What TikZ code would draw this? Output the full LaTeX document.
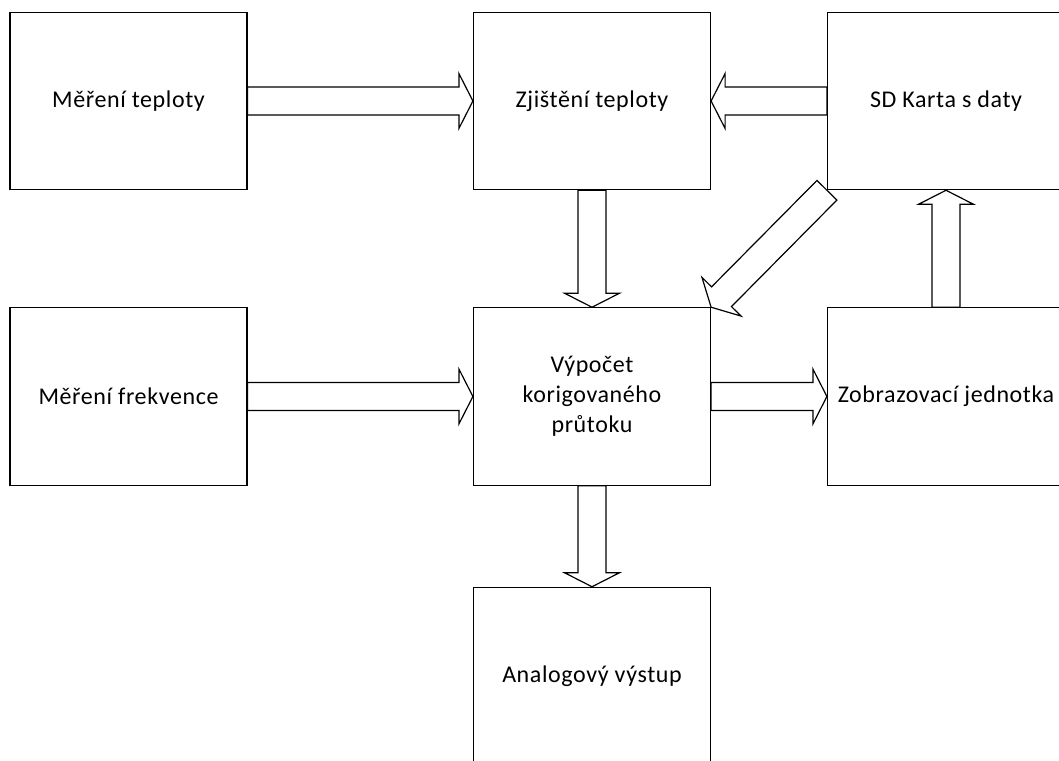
\documentclass[tikz,border=0pt]{standalone}
\usepackage{fontspec}
\setmainfont{Carlito}[LetterSpace=2.5]
\usepackage{tikz}
\usetikzlibrary{calc}

\tikzset{
	box/.style={draw, line width=0.9pt, minimum width=177.75pt, minimum height=133pt,
		inner sep=0pt, align=center, font=\fontsize{18}{22.5}\selectfont},
	blockarrow/.style={draw, line width=0.9pt, line join=miter, to path={
		let \p1=(\tikztostart), \p2=(\tikztotarget),
		\n1={atan2(\y2-\y1,\x2-\x1)}, \n2={veclen(\x2-\x1,\y2-\y1)} in
		($(\p1)+(\n1+90:10.5pt)$)
		-- ($(\p1)+(\n1:\n2-10.5pt)+(\n1+90:10.5pt)$)
		-- ($(\p1)+(\n1:\n2-10.5pt)+(\n1+90:20.6pt)$)
		-- (\p2)
		-- ($(\p1)+(\n1:\n2-10.5pt)+(\n1-90:20.6pt)$)
		-- ($(\p1)+(\n1:\n2-10.5pt)+(\n1-90:10.5pt)$)
		-- ($(\p1)+(\n1-90:10.5pt)$) -- cycle}}
}

\begin{document}
\begin{tikzpicture}[x=0.75pt,y=-0.75pt]
		\useasboundingbox (0,0) rectangle (1059,760);
		
		\node[box] (mt) at (128.5,101) {Měření teploty};
		\node[box] (zt) at (592,101) {Zjištění teploty};
		\node[box] (sd) at (946,101) {SD Karta s daty};
		\node[box] (mf) at (128.5,396.5) {Měření frekvence};
		\node[box] (vy) at (592,396.5) {Výpočet\\korigovaného\\průtoku};
		\node[box] (zo) at (946,396.5) {Zobrazovací jednotka};
		\node[box] (an) at (592,676) {Analogový výstup};
		
		\draw[blockarrow] (mt.east) to (zt.west);
		\draw[blockarrow] (sd.west) to (zt.east);
		\draw[blockarrow] (zt.south) to (vy.north);
		\draw[blockarrow] (sd.south west) to (vy.north east);
		\draw[blockarrow] (zo.north) to (sd.south);
		\draw[blockarrow] (mf.east) to (vy.west);
		\draw[blockarrow] (vy.east) to (zo.west);
		\draw[blockarrow] (vy.south) to (an.north);
		
\end{tikzpicture}
\end{document}
